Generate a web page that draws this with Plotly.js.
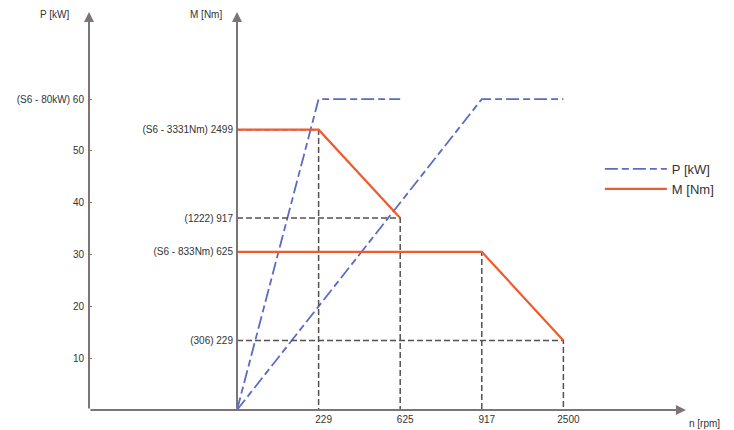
<!DOCTYPE html>
<html><head><meta charset="utf-8">
<script src="https://cdn.plot.ly/plotly-3.0.1.min.js"></script>
<style>html,body{margin:0;padding:0;background:#fff}#chart{width:734px;height:430px}</style>
</head><body><div id="chart"></div>
<script>
// Speed axis (schematic, evenly spaced categories)
const speedCategories = ['0', '229', '625', '917', '2500'];
const speedTicks = ['229', '625', '917', '2500'];

// Range 1
const range1Speed = ['0', '229', '625'];
const range1Power = [0, 60, 60];
const range1Torque = [2499, 2499, 917];

// Range 2
const range2Speed = ['0', '917', '2500'];
const range2Power = [0, 60, 60];
const range2Torque = [625, 625, 229];

// Axis ticks
const powerTicks = [10, 20, 30, 40, 50, 60];
const powerTickText = ['10', '20', '30', '40', '50', '(S6 - 80kW) 60'];
const torqueTicks = [229, 625, 917, 2499];
const torqueTickText = ['(306) 229', '(S6 - 833Nm) 625', '(1222) 917', '(S6 - 3331Nm) 2499'];

// Guide lines (corner points)
const guideSpeed = ['229', '625', '917', '2500'];
const guideTorque = [2499, 917, 625, 229];

const powerRange = [0, 77.2];
const torqueLogRange = [2.0169, 3.9873];

const blue = '#5b6bc6';
const red = '#ef5a2e';
const axisGray = '#7d7575';
const guideGray = '#555050';
const pDash = '13px,4px,7px,4px';

const traces = [];
const torqueBottom = Math.pow(10, torqueLogRange[0]);
guideSpeed.forEach((s, i) => {
  traces.push({
    x: ['0', s, s], y: [guideTorque[i], guideTorque[i], torqueBottom],
    yaxis: 'y2', mode: 'lines', showlegend: false, hoverinfo: 'skip',
    line: {color: guideGray, width: 1.5, dash: '6px,3px'}
  });
});
traces.push({x: range1Speed, y: range1Power, name: 'P [kW]', mode: 'lines',
  line: {color: blue, width: 1.8, dash: pDash}});
traces.push({x: range2Speed, y: range2Power, name: 'P [kW]', showlegend: false, mode: 'lines',
  line: {color: blue, width: 1.8, dash: pDash}});
traces.push({x: range1Speed, y: range1Torque, yaxis: 'y2', name: 'M [Nm]', mode: 'lines',
  line: {color: red, width: 2.2}});
traces.push({x: range2Speed, y: range2Torque, yaxis: 'y2', name: 'M [Nm]', showlegend: false, mode: 'lines',
  line: {color: red, width: 2.2}});

const mAxisPos = 0.2442;
const layout = {
  width: 734, height: 430,
  margin: {l: 89, r: 39, t: 10, b: 20},
  paper_bgcolor: '#fff', plot_bgcolor: '#fff',
  font: {family: 'Liberation Sans, Arial, sans-serif', size: 10, color: '#333333'},
  xaxis: {type: 'category', categoryorder: 'array', categoryarray: speedCategories,
    range: [-1.814, 5.613], tickvals: speedTicks, ticktext: speedTicks,
    showgrid: false, zeroline: false, showline: false, ticks: '',
    ticklabelshift: 5, ticklabelstandoff: 2, fixedrange: true},
  yaxis: {range: powerRange, tickvals: powerTicks, ticktext: powerTickText,
    showgrid: false, zeroline: false, showline: false,
    ticks: 'inside', ticklen: 3, tickcolor: axisGray, ticklabelstandoff: 4, fixedrange: true},
  yaxis2: {type: 'log', overlaying: 'y', anchor: 'free', position: mAxisPos, side: 'left',
    range: torqueLogRange, tickvals: torqueTicks, ticktext: torqueTickText,
    showgrid: false, zeroline: false, showline: false, ticks: '', ticklabelstandoff: 4, fixedrange: true},
  legend: {x: 0.843, y: 0.64, xanchor: 'left', yanchor: 'top', itemwidth: 62, tracegroupgap: 0,
    font: {size: 13, color: '#333333'}, bgcolor: 'rgba(0,0,0,0)'},
  showlegend: true,
  annotations: [
    {xref: 'paper', yref: 'paper', x: 0, y: 0.995, ax: 0, ay: 398, axref: 'pixel', ayref: 'pixel',
      showarrow: true, arrowhead: 2, arrowsize: 1, arrowwidth: 2, arrowcolor: axisGray, text: ''},
    {xref: 'paper', yref: 'paper', x: mAxisPos, y: 0.995, ax: 0, ay: 398, axref: 'pixel', ayref: 'pixel',
      showarrow: true, arrowhead: 2, arrowsize: 1, arrowwidth: 2, arrowcolor: axisGray, text: ''},
    {xref: 'paper', yref: 'paper', x: 0.985, y: 0, ax: -597, ay: 0, axref: 'pixel', ayref: 'pixel',
      showarrow: true, arrowhead: 2, arrowsize: 1, arrowwidth: 2, arrowcolor: axisGray, text: ''},
    {xref: 'paper', yref: 'paper', x: -0.0297, y: 0.9875, xanchor: 'right', yanchor: 'middle', showarrow: false, text: 'P [kW]'},
    {xref: 'paper', yref: 'paper', x: 0.2228, y: 0.9875, xanchor: 'right', yanchor: 'middle', showarrow: false, text: 'M [Nm]'},
    {xref: 'paper', yref: 'paper', x: 0.987, y: -0.035, xanchor: 'left', yanchor: 'middle', showarrow: false, text: 'n [rpm]'},
    {xref: 'x', yref: 'y', x: range1Speed[1], y: range1Power[1], xanchor: 'left', yanchor: 'bottom', yshift: 3, showarrow: false, text: 'Range 1'},
    {xref: 'x', yref: 'y', x: range2Speed[1], y: range2Power[1], xanchor: 'left', yanchor: 'bottom', yshift: 3, showarrow: false, text: 'Range 2'}
  ]
};

Plotly.newPlot('chart', traces, layout, {displayModeBar: false, staticPlot: true});
</script>
</body></html>
